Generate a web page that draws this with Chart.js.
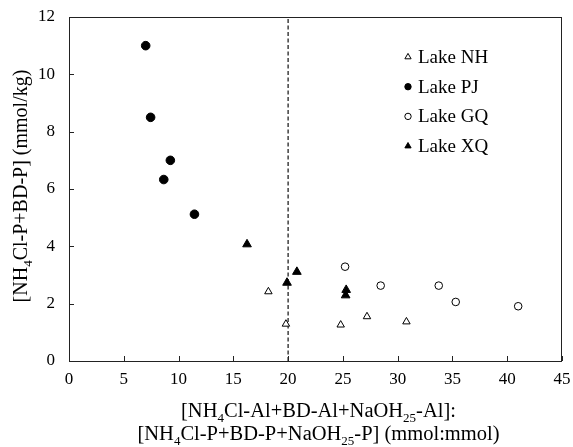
<!DOCTYPE html>
<html lang="en">
  <head>
    <meta charset="UTF-8" />
    <title>Lake P vs Al:P ratio</title>
    <script src="https://cdn.jsdelivr.net/npm/chart.js"></script>
    <style>
      html, body { margin: 0; padding: 0; background: #fff; }
    </style>
  </head>
  <body>
    <canvas id="myChart" width="573" height="447"></canvas>

    <script>
      // values
      const nhX = [18.2, 19.8, 24.8, 27.2, 30.8];
      const nhY = [2.42, 1.29, 1.26, 1.55, 1.37];
      const pjX = [7.0, 7.45, 9.25, 8.65, 11.45];
      const pjY = [11.0, 8.5, 7.0, 6.33, 5.12];
      const gqX = [25.2, 28.45, 33.75, 35.3, 41.0];
      const gqY = [3.29, 2.63, 2.63, 2.06, 1.91];
      const xqX = [16.25, 19.9, 20.8, 25.3, 25.25];
      const xqY = [4.07, 2.73, 3.11, 2.48, 2.29];
      const thresholdX = 20;
      const xTicks = [0, 5, 10, 15, 20, 25, 30, 35, 40, 45];
      const yTicks = [0, 2, 4, 6, 8, 10, 12];
      const seriesNames = ['Lake NH', 'Lake PJ', 'Lake GQ', 'Lake XQ'];

      const pts = (xs, ys) => xs.map((x, i) => ({ x: x, y: ys[i] }));
      const serif = 'Liberation Serif, Times New Roman, serif';

      // draws text made of normal and subscript pieces, centred on cx
      const drawRich = (c, parts, cx, cy, size) => {
        const big = size + 'px ' + serif;
        const small = Math.round(size * 0.65) + 'px ' + serif;
        let w = 0;
        parts.forEach((p) => {
          c.font = p.sub ? small : big;
          w += c.measureText(p.t).width;
        });
        let x = cx - w / 2;
        c.textAlign = 'left';
        c.textBaseline = 'alphabetic';
        parts.forEach((p) => {
          c.font = p.sub ? small : big;
          c.fillText(p.t, x, p.sub ? cy + 5 : cy);
          x += c.measureText(p.t).width;
        });
      };

      const extras = {
        id: 'extras',
        afterDraw(chart) {
          const c = chart.ctx;
          const a = chart.chartArea;
          const xs = chart.scales.x;
          const ys = chart.scales.y;
          c.save();
          c.strokeStyle = '#222';
          c.lineWidth = 1;
          c.strokeRect(a.left + 0.5, a.top + 0.5, a.right - a.left - 1, a.bottom - a.top);
          // inward ticks
          c.beginPath();
          xTicks.forEach((v) => {
            const px = Math.round(xs.getPixelForValue(v)) + 0.5;
            c.moveTo(px, a.bottom);
            c.lineTo(px, a.bottom - 5);
          });
          yTicks.forEach((v) => {
            const py = Math.round(ys.getPixelForValue(v)) + 0.5;
            c.moveTo(a.left, py);
            c.lineTo(a.left + 5, py);
          });
          c.stroke();

          c.fillStyle = '#000';
          const cx = (a.left + a.right) / 2;
          drawRich(c, [
            { t: '[NH' }, { t: '4', sub: true }, { t: 'Cl-Al+BD-Al+NaOH' },
            { t: '25', sub: true }, { t: '-Al]:' }
          ], cx + 3, 417, 20.5);
          drawRich(c, [
            { t: '[NH' }, { t: '4', sub: true }, { t: 'Cl-P+BD-P+NaOH' },
            { t: '25', sub: true }, { t: '-P] (mmol:mmol)' }
          ], cx + 3, 440, 20.5);

          c.save();
          c.translate(27, 186);
          c.rotate(-Math.PI / 2);
          drawRich(c, [
            { t: '[NH' }, { t: '4', sub: true }, { t: 'Cl-P+BD-P] (mmol/kg)' }
          ], 0, 0, 20);
          c.restore();

          // legend inside plot
          const ds = chart.data.datasets;
          c.font = '19px ' + serif;
          c.textAlign = 'left';
          c.textBaseline = 'middle';
          seriesNames.forEach((name, i) => {
            const y = 57 + i * 29.7;
            const d = ds[i];
            c.save();
            c.lineWidth = 1;
            c.strokeStyle = '#000';
            c.fillStyle = d.backgroundColor;
            Chart.helpers.drawPoint(c, { pointStyle: d.pointStyle, radius: d.pointStyle === 'triangle' ? 3.6 : 3.2, borderWidth: 1 }, 408, y);
            c.restore();
            c.fillStyle = '#000';
            c.fillText(name, 418, y + 1);
          });
          c.restore();
        },
      };

      document.addEventListener('DOMContentLoaded', function () {
        const ctx = document.getElementById('myChart').getContext('2d');
        const tickFont = { family: serif, size: 17 };

        new Chart(ctx, {
          type: 'scatter',
          plugins: [extras],
          data: {
            datasets: [
              {
                label: seriesNames[0],
                data: pts(nhX, nhY),
                pointStyle: 'triangle',
                radius: 4.3,
                backgroundColor: '#fff',
                borderColor: '#000',
                borderWidth: 1,
              },
              {
                label: seriesNames[1],
                data: pts(pjX, pjY),
                pointStyle: 'circle',
                radius: 4.3,
                backgroundColor: '#000',
                borderColor: '#000',
                borderWidth: 1,
              },
              {
                label: seriesNames[2],
                data: pts(gqX, gqY),
                pointStyle: 'circle',
                radius: 3.8,
                backgroundColor: '#fff',
                borderColor: '#000',
                borderWidth: 1,
              },
              {
                label: seriesNames[3],
                data: pts(xqX, xqY),
                pointStyle: 'triangle',
                radius: 5,
                backgroundColor: '#000',
                borderColor: '#000',
                borderWidth: 1,
              },
              {
                type: 'line',
                label: 'threshold',
                data: [{ x: thresholdX, y: 0 }, { x: thresholdX, y: 12 }],
                borderColor: '#222',
                borderWidth: 1.3,
                borderDash: [4, 2.5],
                pointRadius: 0,
                fill: false,
              },
            ],
          },
          options: {
            responsive: false,
            animation: false,
            events: [],
            layout: { padding: { top: 17, right: 11, left: 0, bottom: 0 } },
            plugins: { legend: { display: false }, tooltip: { enabled: false } },
            scales: {
              x: {
                type: 'linear',
                min: 0,
                max: 45,
                afterFit: (s) => {
                  s.height = 86;
                  s.paddingLeft = 0;
                  s.paddingRight = 0;
                },
                afterBuildTicks: (s) => { s.ticks = xTicks.map((v) => ({ value: v })); },
                grid: { display: false, drawTicks: false },
                border: { display: false },
                ticks: { font: tickFont, color: '#000', padding: 8, maxRotation: 0 },
              },
              y: {
                type: 'linear',
                min: 0,
                max: 12,
                afterFit: (s) => {
                  s.width = 69;
                  s.paddingTop = 0;
                  s.paddingBottom = 0;
                },
                afterBuildTicks: (s) => { s.ticks = yTicks.map((v) => ({ value: v })); },
                grid: { display: false, drawTicks: false },
                border: { display: false },
                ticks: { font: tickFont, color: '#000', padding: 14 },
              },
            },
          },
        });
      });
    </script>
  </body>
</html>
